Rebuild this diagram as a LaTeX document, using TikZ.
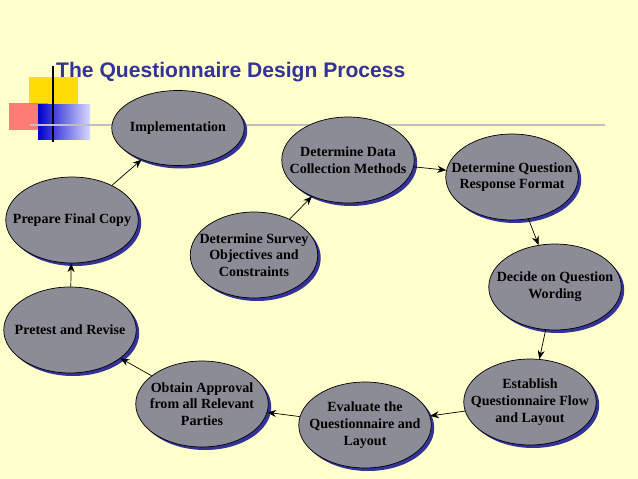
\documentclass[tikz,border=0pt]{standalone}
\usepackage{fontspec}
\setmainfont{Liberation Serif}
\setsansfont{Liberation Sans}
\usetikzlibrary{positioning,shapes.geometric,arrows.meta,shadows}
\definecolor{PaleBg}{RGB}{255,255,204}
\definecolor{TitleBlue}{RGB}{51,51,153}
\definecolor{StepGray}{RGB}{140,140,150}
\tikzset{
    stepnode/.style={ellipse, draw=black, thin, fill=StepGray, align=center,
        minimum width=2.65cm, minimum height=1.72cm, inner xsep=-9pt, inner ysep=-4pt,
        font=\bfseries\fontsize{8}{9.5}\selectfont,
        drop shadow={shadow xshift=0.06cm, shadow yshift=-0.06cm, fill=TitleBlue, opacity=1}},
    flow/.style={-{Stealth[length=5pt,width=4pt]}, black, thin}
}
\begin{document}
\begin{tikzpicture}[x=0.02cm, y=-0.02cm]
    % --- NỀN ---
    \fill[PaleBg] (0,0) rectangle (638,479);
    \useasboundingbox (0,0) rectangle (638,479);

    % --- TRANG TRÍ ---
    \fill[yellow!80!orange] (29,77) rectangle (78,105);
    \fill[red!60, opacity=0.85] (9,103) rectangle (48,130);
    \shade[left color=blue!80!black, right color=blue!15] (38,105) rectangle (90,140);
    \draw[black, thick] (53,66) -- (53,142);
    \draw[gray!50, line width=1.2pt] (30,125) -- (605,125);

    % --- TIÊU ĐỀ ---
    \node[anchor=west, text=TitleBlue, font=\sffamily\bfseries\fontsize{12}{14}\selectfont]
        (title) at (50,72) {The Questionnaire Design Process};

    % --- CÁC BƯỚC ---
    \node[stepnode, minimum height=1.5cm] (impl) at (178,128) {Implementation};
    \node[stepnode] (collect) at (348,160) {Determine Data\\Collection Methods};
    \node[stepnode] (response) at (512,177) {Determine Question\\Response Format};
    \node[stepnode] (wording) at (555,287) {Decide on Question\\Wording};
    \node[stepnode] (flow) at (530,402) {Establish\\Questionnaire Flow\\and Layout};
    \node[stepnode] (evaluate) at (365,425) {Evaluate the\\Questionnaire and\\Layout};
    \node[stepnode] (approval) at (202,404) {Obtain Approval\\from all Relevant\\Parties};
    \node[stepnode] (pretest) at (70,330) {Pretest and Revise};
    \node[stepnode] (final) at (72,220) {Prepare Final Copy};
    \node[stepnode, minimum width=2.55cm] (survey) at (254,255) {Determine Survey\\Objectives and\\Constraints};

    % --- MŨI TÊN ---
    \draw[flow] (survey) -- (collect);
    \draw[flow] (collect) -- (response);
    \draw[flow] (response) -- (wording);
    \draw[flow] (wording) -- (flow);
    \draw[flow] (flow) -- (evaluate);
    \draw[flow] (evaluate) -- (approval);
    \draw[flow] (approval) -- (pretest);
    \draw[flow] (pretest) -- (final);
    \draw[flow] (final) -- (impl);
\end{tikzpicture}
\end{document}
